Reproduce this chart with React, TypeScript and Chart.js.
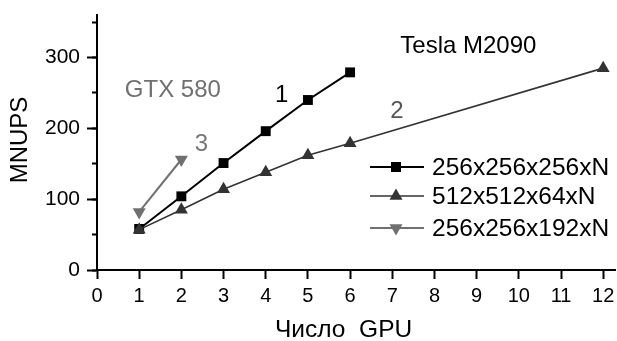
import React, { useEffect, useRef } from "react";
import { Chart, registerables } from "chart.js";

Chart.register(...registerables);

const xTicks = [0, 1, 2, 3, 4, 5, 6, 7, 8, 9, 10, 11, 12];
const yMajorTicks = [0, 100, 200, 300];
const yMinorTicks = [0, 50, 100, 150, 200, 250, 300, 350];

const gpus1 = [1, 2, 3, 4, 5, 6];
const mnups1 = [58, 104, 151, 196, 240, 279];
const gpus2 = [1, 2, 3, 4, 5, 6, 12];
const mnups2 = [57, 85, 114, 138, 162, 179, 285];
const gpus3 = [1, 2];
const mnups3 = [82, 156];

const seriesNames = ["256x256x256xN", "512x512x64xN", "256x256x192xN"];

const annotations = [
  { text: "Tesla M2090", x: 7.19, y: 307, color: "#000" },
  { text: "GTX 580", x: 0.66, y: 244, color: "#707070" },
  { text: "1", x: 4.22, y: 237, color: "#000" },
  { text: "2", x: 6.95, y: 215, color: "#555" },
  { text: "3", x: 2.32, y: 168, color: "#777" },
];

const FONT = "'Liberation Sans', Arial, sans-serif";

function drawMarker(ctx: CanvasRenderingContext2D, style: string, x: number, y: number, color: string) {
  ctx.save();
  ctx.fillStyle = color;
  ctx.beginPath();
  if (style === "rect") {
    ctx.rect(x - 5, y - 5, 10, 10);
  } else if (style === "up") {
    const r = 7.5;
    ctx.moveTo(x, y - r);
    ctx.lineTo(x + r * 0.866, y + r / 2);
    ctx.lineTo(x - r * 0.866, y + r / 2);
    ctx.closePath();
  } else {
    const r = 7.5;
    ctx.moveTo(x, y + r);
    ctx.lineTo(x + r * 0.866, y - r / 2);
    ctx.lineTo(x - r * 0.866, y - r / 2);
    ctx.closePath();
  }
  ctx.fill();
  ctx.restore();
}

const overlayPlugin = {
  id: "overlay",
  afterDraw(chart: any) {
    const ctx: CanvasRenderingContext2D = chart.ctx;
    const xs = chart.scales.x;
    const ys = chart.scales.y;
    ctx.save();
    // annotations
    ctx.font = `24px ${FONT}`;
    ctx.textAlign = "left";
    ctx.textBaseline = "alphabetic";
    for (const a of annotations) {
      ctx.fillStyle = a.color;
      ctx.fillText(a.text, xs.getPixelForValue(a.x), ys.getPixelForValue(a.y));
    }
    // axis titles
    ctx.fillStyle = "#000";
    ctx.textAlign = "left";
    ctx.font = `24.5px ${FONT}`;
    ctx.fillText("Число  GPU", 275, 337);
    ctx.save();
    ctx.translate(27, 140);
    ctx.rotate(-Math.PI / 2);
    ctx.textAlign = "center";
    ctx.font = `24px ${FONT}`;
    ctx.fillText("MNUPS", 0, 0);
    ctx.restore();
    // legend
    const rows = [
      { y: 167, color: "#000", lw: 2, style: "rect" },
      { y: 196, color: "#333", lw: 1.5, style: "up" },
      { y: 228, color: "#707070", lw: 2, style: "down" },
    ];
    rows.forEach((r, i) => {
      ctx.strokeStyle = r.color;
      ctx.lineWidth = r.lw;
      ctx.beginPath();
      ctx.moveTo(370, r.y);
      ctx.lineTo(424, r.y);
      ctx.stroke();
      drawMarker(ctx, r.style, 396, r.y, r.color);
      ctx.fillStyle = "#000";
      ctx.textAlign = "left";
      ctx.textBaseline = "middle";
      ctx.font = `24.5px ${FONT}`;
      ctx.fillText(seriesNames[i], 432, r.y + 1);
    });
    ctx.restore();
  },
};

export default function App() {
  const ref = useRef<HTMLCanvasElement>(null);
  useEffect(() => {
    if (!ref.current) return;
    const toPts = (xs: number[], ys: number[]) => xs.map((x, i) => ({ x, y: ys[i] }));
    const chart = new Chart(ref.current, {
      type: "line",
      data: {
        datasets: [
          {
            label: seriesNames[0],
            data: toPts(gpus1, mnups1),
            borderColor: "#000",
            backgroundColor: "#000",
            borderWidth: 2,
            pointStyle: "rect",
            pointRadius: 7,
            pointBorderWidth: 0,
            order: 2,
          },
          {
            label: seriesNames[1],
            data: toPts(gpus2, mnups2),
            borderColor: "#333",
            backgroundColor: "#333",
            borderWidth: 1.6,
            pointStyle: "triangle",
            pointRadius: 7.5,
            pointBorderWidth: 0,
            order: 1,
          },
          {
            label: seriesNames[2],
            data: toPts(gpus3, mnups3),
            borderColor: "#707070",
            backgroundColor: "#707070",
            borderWidth: 2,
            pointStyle: "triangle",
            pointRotation: 180,
            pointRadius: 7.5,
            pointBorderWidth: 0,
            order: 3,
          },
        ],
      },
      options: {
        responsive: false,
        animation: false,
        events: [],
        layout: { autoPadding: false, padding: { top: 15, right: 2, left: 0, bottom: 0 } },
        plugins: { legend: { display: false }, tooltip: { enabled: false } },
        scales: {
          x: {
            type: "linear",
            min: 0,
            max: 12.28,
            afterBuildTicks: (s: any) => {
              s.ticks = xTicks.map((v) => ({ value: v }));
            },
            afterFit: (s: any) => {
              s.height = 71;
              s.paddingLeft = 0;
              s.paddingRight = 0;
            },
            grid: { drawOnChartArea: false, tickLength: 9, tickColor: "#000", tickWidth: 2 },
            border: { color: "#000", width: 2 },
            ticks: {
              color: "#000",
              font: { family: FONT, size: 20 },
              padding: 5,
              maxRotation: 0,
              autoSkip: false,
            },
          },
          y: {
            type: "linear",
            min: 0,
            max: 360,
            weight: 1,
            afterBuildTicks: (s: any) => {
              s.ticks = yMajorTicks.map((v) => ({ value: v }));
            },
            afterFit: (s: any) => {
              s.width = 97;
              s.paddingTop = 0;
              s.paddingBottom = 0;
            },
            grid: { drawOnChartArea: false, tickLength: 10, tickColor: "#000", tickWidth: 2 },
            border: { color: "#000", width: 2 },
            ticks: {
              color: "#000",
              font: { family: FONT, size: 21 },
              padding: 7,
            },
          },
          y2: {
            type: "linear",
            position: "left",
            min: 0,
            max: 360,
            weight: 0,
            afterBuildTicks: (s: any) => {
              s.ticks = yMinorTicks.map((v) => ({ value: v }));
            },
            afterFit: (s: any) => {
              s.width = 0;
              s.paddingTop = 0;
              s.paddingBottom = 0;
            },
            grid: { drawOnChartArea: false, tickLength: 5, tickColor: "#000", tickWidth: 2 },
            border: { display: false },
            ticks: { display: false },
          },
        },
      },
      plugins: [overlayPlugin],
    } as any);
    return () => chart.destroy();
  }, []);
  return (
    <div style={{ position: "fixed", left: 0, top: 0, width: 617, height: 341, background: "#fff" }}>
      <canvas ref={ref} width={617} height={341} style={{ width: 617, height: 341, display: "block" }} />
    </div>
  );
}
